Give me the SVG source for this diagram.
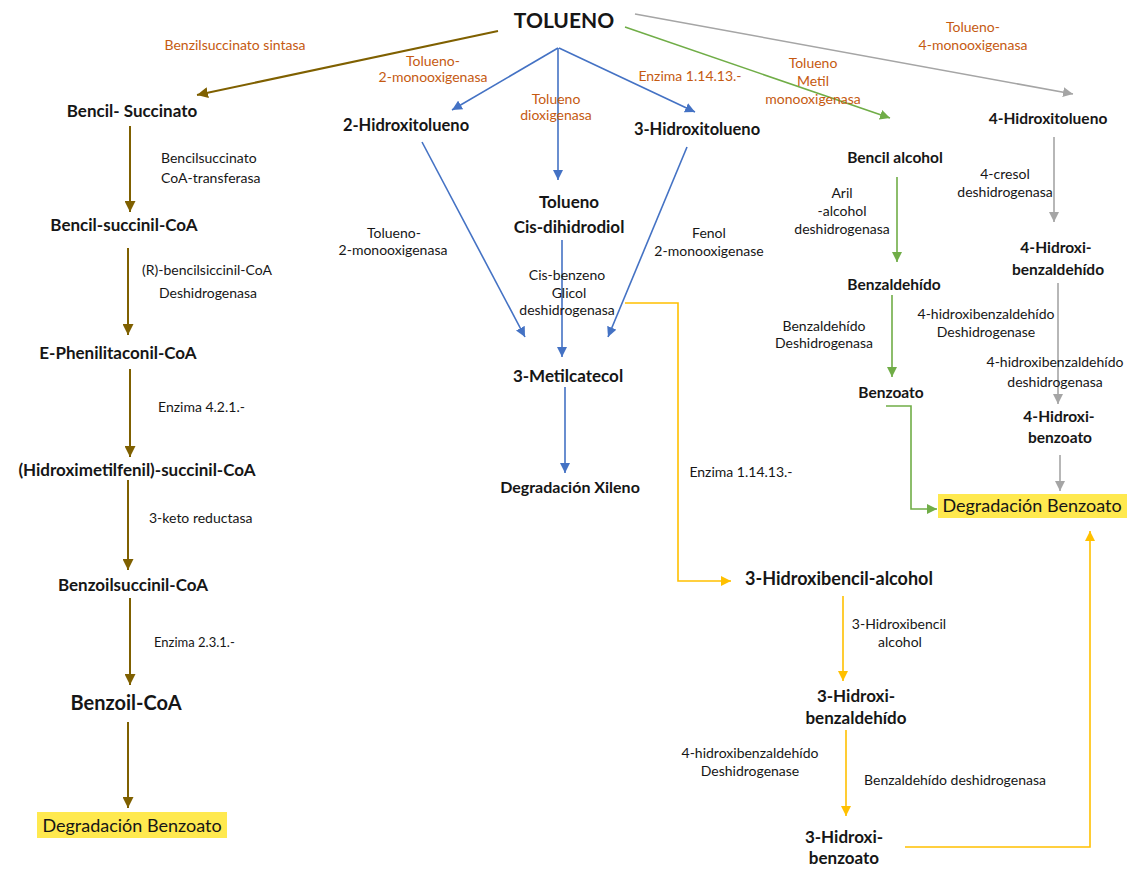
<svg xmlns="http://www.w3.org/2000/svg" width="1131" height="869" viewBox="0 0 1131 869">
<defs>
<style>
text{font-family:Lato,"Open Sans","Liberation Sans",sans-serif;fill:#161616;text-anchor:middle}
.n{font-weight:bold;font-size:17px}
.nr{font-weight:bold;font-size:15.5px}
.s{font-size:14px}
.o{font-size:14px;fill:#C55A11}
.st{text-anchor:start}
.hl{fill:#FFE94F}
.c{fill:none;stroke-width:1.6}
.br{stroke:#7F6000;stroke-width:2}
.bl{stroke:#4472C4}
.gr{stroke:#70AD47}
.gy{stroke:#A5A5A5}
.ye{stroke:#FFC000}
</style>
<marker id="mbr" viewBox="0 0 10 10" refX="10" refY="5" markerWidth="11" markerHeight="11" markerUnits="userSpaceOnUse" orient="auto"><path d="M0,0 L10,5 L0,10 z" fill="#7F6000"/></marker>
<marker id="mbl" viewBox="0 0 10 10" refX="10" refY="5" markerWidth="10" markerHeight="10" markerUnits="userSpaceOnUse" orient="auto"><path d="M0,0 L10,5 L0,10 z" fill="#4472C4"/></marker>
<marker id="mgr" viewBox="0 0 10 10" refX="10" refY="5" markerWidth="10" markerHeight="10" markerUnits="userSpaceOnUse" orient="auto"><path d="M0,0 L10,5 L0,10 z" fill="#70AD47"/></marker>
<marker id="mgy" viewBox="0 0 10 10" refX="10" refY="5" markerWidth="10" markerHeight="10" markerUnits="userSpaceOnUse" orient="auto"><path d="M0,0 L10,5 L0,10 z" fill="#A5A5A5"/></marker>
<marker id="mye" viewBox="0 0 10 10" refX="10" refY="5" markerWidth="10" markerHeight="10" markerUnits="userSpaceOnUse" orient="auto"><path d="M0,0 L10,5 L0,10 z" fill="#FFC000"/></marker>
</defs>
<rect width="1131" height="869" fill="#fff"/>
<g id="connectors">
<path class="c br" d="M498,31 L197,95" marker-end="url(#mbr)"/>
<path class="c br" d="M130,126 V212" marker-end="url(#mbr)"/>
<path class="c br" d="M128,248 V335" marker-end="url(#mbr)"/>
<path class="c br" d="M130,369 V457" marker-end="url(#mbr)"/>
<path class="c br" d="M128,480 V570" marker-end="url(#mbr)"/>
<path class="c br" d="M130,598 V685" marker-end="url(#mbr)"/>
<path class="c br" d="M128,722 V808" marker-end="url(#mbr)"/>
<path class="c bl" d="M558,48 L452,110" marker-end="url(#mbl)"/>
<path class="c bl" d="M558,48 V180" marker-end="url(#mbl)"/>
<path class="c bl" d="M559,48 L695,112" marker-end="url(#mbl)"/>
<path class="c bl" d="M422,142 L525,337" marker-end="url(#mbl)"/>
<path class="c bl" d="M687,147 L608,337" marker-end="url(#mbl)"/>
<path class="c bl" d="M562,240 V357" marker-end="url(#mbl)"/>
<path class="c bl" d="M565,387 V473" marker-end="url(#mbl)"/>
<path class="c gr" d="M625,27 L890,118" marker-end="url(#mgr)"/>
<path class="c gr" d="M897,177 V262" marker-end="url(#mgr)"/>
<path class="c gr" d="M892,295 V377" marker-end="url(#mgr)"/>
<path class="c gr" d="M886,406 H911 V509 H937" marker-end="url(#mgr)"/>
<path class="c gy" d="M635,14 L1073,94" marker-end="url(#mgy)"/>
<path class="c gy" d="M1054,137 V222" marker-end="url(#mgy)"/>
<path class="c gy" d="M1058,283 V404" marker-end="url(#mgy)"/>
<path class="c gy" d="M1060,455 V491" marker-end="url(#mgy)"/>
<path class="c ye" d="M625,303 H678 V581 H731" marker-end="url(#mye)"/>
<path class="c ye" d="M843,596 V681" marker-end="url(#mye)"/>
<path class="c ye" d="M846,730 V816" marker-end="url(#mye)"/>
<path class="c ye" d="M905,847 H1090 V531" marker-end="url(#mye)"/>
</g>
<g id="edge-labels">
<text class="o" x="235" y="50">Benzilsuccinato sintasa</text>
<text class="o" x="433" y="66">Tolueno-</text>
<text class="o" x="433" y="82">2-monooxigenasa</text>
<text class="o" x="556" y="104">Tolueno</text>
<text class="o" x="556" y="120">dioxigenasa</text>
<text class="o" x="690" y="81">Enzima 1.14.13.-</text>
<text class="o" x="813" y="68">Tolueno</text>
<text class="o" x="813" y="86">Metil</text>
<text class="o" x="813" y="104">monooxigenasa</text>
<text class="o" x="973" y="32">Tolueno-</text>
<text class="o" x="973" y="50">4-monooxigenasa</text>
<text class="s st" x="161" y="163">Bencilsuccinato</text>
<text class="s st" x="161" y="183">CoA-transferasa</text>
<text class="s" x="207" y="275">(R)-bencilsiccinil-CoA</text>
<text class="s" x="208" y="298">Deshidrogenasa</text>
<text class="s st" x="158" y="412">Enzima 4.2.1.-</text>
<text class="s st" x="149" y="523">3-keto reductasa</text>
<text class="s st" x="154" y="647" style="font-size:13px">Enzima 2.3.1.-</text>
<text class="s" x="394" y="238">Tolueno-</text>
<text class="s" x="393" y="255">2-monooxigenasa</text>
<text class="s" x="567" y="280">Cis-benzeno</text>
<text class="s" x="569" y="298">Glicol</text>
<text class="s" x="567" y="315">deshidrogenasa</text>
<text class="s" x="709" y="238">Fenol</text>
<text class="s" x="709" y="256">2-monooxigenase</text>
<text class="s" x="741" y="477">Enzima 1.14.13.-</text>
<text class="s" x="842" y="198">Aril</text>
<text class="s" x="842" y="216">-alcohol</text>
<text class="s" x="842" y="234">deshidrogenasa</text>
<text class="s" x="1005" y="179">4-cresol</text>
<text class="s" x="1005" y="197">deshidrogenasa</text>
<text class="s" x="824" y="331">Benzaldehído</text>
<text class="s" x="824" y="348">Deshidrogenasa</text>
<text class="s" x="986" y="319">4-hidroxibenzaldehído</text>
<text class="s" x="986" y="337">Deshidrogenase</text>
<text class="s" x="1055" y="367">4-hidroxibenzaldehído</text>
<text class="s" x="1055" y="387">deshidrogenasa</text>
<text class="s" x="899" y="629">3-Hidroxibencil</text>
<text class="s" x="900" y="647">alcohol</text>
<text class="s" x="750" y="758">4-hidroxibenzaldehído</text>
<text class="s" x="750" y="776">Deshidrogenase</text>
<text class="s" x="955" y="785">Benzaldehído deshidrogenasa</text>
</g>
<g id="tolueno"><text class="n" x="564" y="28" style="font-size:21px">TOLUENO</text></g>
<g id="bencil-succinato"><text class="n" x="132" y="117">Bencil- Succinato</text></g>
<g id="bencil-succinil-coa"><text class="n" x="124" y="231">Bencil-succinil-CoA</text></g>
<g id="e-phenilitaconil-coa"><text class="n" x="118" y="359">E-Phenilitaconil-CoA</text></g>
<g id="hidroximetilfenil-succinil-coa"><text class="n" x="137" y="476">(Hidroximetilfenil)-succinil-CoA</text></g>
<g id="benzoilsuccinil-coa"><text class="n" x="133" y="591">Benzoilsuccinil-CoA</text></g>
<g id="benzoil-coa"><text class="n" x="126" y="710" style="font-size:20px">Benzoil-CoA</text></g>
<g id="degradacion-benzoato-1"><rect class="hl" x="37" y="812" width="190" height="26"/><text x="132" y="832" style="font-size:18px">Degradación Benzoato</text></g>
<g id="hidroxitolueno-2"><text class="n" x="406" y="131" style="font-size:16.5px">2-Hidroxitolueno</text></g>
<g id="hidroxitolueno-3"><text class="n" x="697" y="135" style="font-size:16.5px">3-Hidroxitolueno</text></g>
<g id="cis-dihidrodiol"><text class="n" x="569" y="208">Tolueno</text><text class="n" x="569" y="233">Cis-dihidrodiol</text></g>
<g id="metilcatecol"><text class="n" x="568" y="382">3-Metilcatecol</text></g>
<g id="degradacion-xileno"><text class="n" x="570" y="493" style="font-size:16px">Degradación Xileno</text></g>
<g id="bencil-alcohol"><text class="nr" x="895" y="163">Bencil alcohol</text></g>
<g id="benzaldehido"><text class="nr" x="894" y="290">Benzaldehído</text></g>
<g id="benzoato"><text class="nr" x="891" y="398">Benzoato</text></g>
<g id="degradacion-benzoato-2"><rect class="hl" x="938" y="494" width="189" height="24"/><text x="1032" y="512" style="font-size:18px">Degradación Benzoato</text></g>
<g id="hidroxitolueno-4"><text class="nr" x="1048" y="124">4-Hidroxitolueno</text></g>
<g id="hidroxibenzaldehido-4"><text class="nr" x="1056" y="253">4-Hidroxi-</text><text class="nr" x="1058" y="275">benzaldehído</text></g>
<g id="hidroxibenzoato-4"><text class="nr" x="1059" y="422">4-Hidroxi-</text><text class="nr" x="1060" y="443">benzoato</text></g>
<g id="hidroxibencil-alcohol-3"><text class="n" x="839" y="585" style="font-size:18px">3-Hidroxibencil-alcohol</text></g>
<g id="hidroxibenzaldehido-3"><text class="n" x="856" y="702">3-Hidroxi-</text><text class="n" x="856" y="724">benzaldehído</text></g>
<g id="hidroxibenzoato-3"><text class="n" x="844" y="843">3-Hidroxi-</text><text class="n" x="844" y="864">benzoato</text></g>
</svg>
